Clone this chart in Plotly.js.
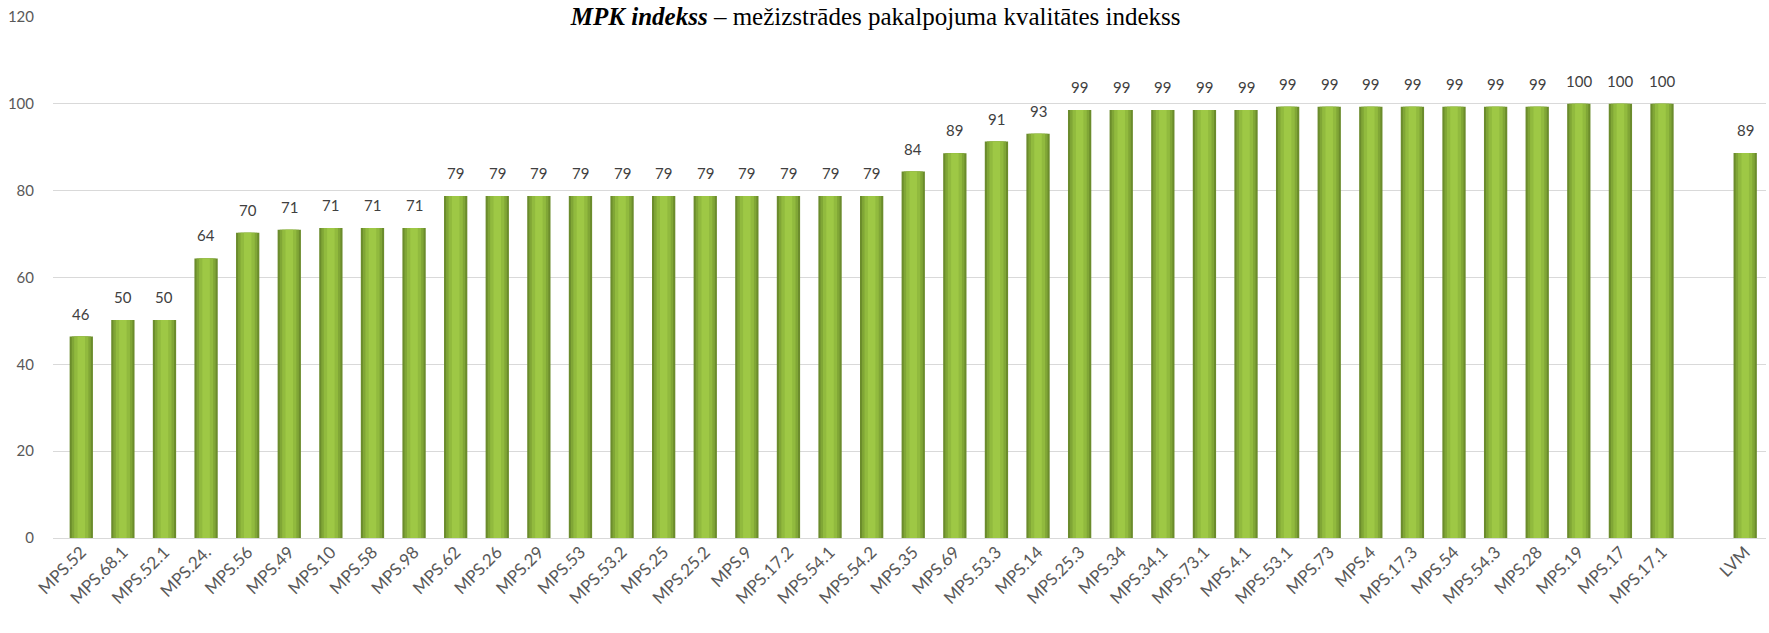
<!DOCTYPE html>
<html>
<head>
<meta charset="utf-8">
<script src="https://cdn.plot.ly/plotly-3.0.1.min.js"></script>
<style>html,body{margin:0;padding:0;background:#fff;}#chart{width:1769px;height:633px;}</style>
</head>
<body>
<div id="chart"></div>
<script>
const categories = ["MPS.52","MPS.68.1","MPS.52.1","MPS.24.","MPS.56","MPS.49","MPS.10","MPS.58","MPS.98","MPS.62","MPS.26","MPS.29","MPS.53","MPS.53.2","MPS.25","MPS.25.2","MPS.9","MPS.17.2","MPS.54.1","MPS.54.2","MPS.35","MPS.69","MPS.53.3","MPS.14","MPS.25.3","MPS.34","MPS.34.1","MPS.73.1","MPS.4.1","MPS.53.1","MPS.73","MPS.4","MPS.17.3","MPS.54","MPS.54.3","MPS.28","MPS.19","MPS.17","MPS.17.1"," ","LVM"];
const values = [46.4,50.2,50.2,64.4,70.3,71.0,71.4,71.4,71.4,78.8,78.8,78.8,78.8,78.8,78.8,78.8,78.8,78.8,78.8,78.8,84.4,88.6,91.3,93.1,98.6,98.6,98.6,98.6,98.6,99.3,99.3,99.3,99.3,99.3,99.3,99.3,100,100,100,null,88.7];
const valueLabels = ["46","50","50","64","70","71","71","71","71","79","79","79","79","79","79","79","79","79","79","79","84","89","91","93","99","99","99","99","99","99","99","99","99","99","99","99","100","100","100","","89"];

const layers = [
  {w: 0.56, c: "#6b8c2c"},
  {w: 0.46, c: "#80a636"},
  {w: 0.34, c: "#91ba3e"},
  {w: 0.18, c: "#9ec845"}
];
const traces = layers.map(l => ({
  type: "bar", x: categories, y: values, width: l.w,
  marker: {color: l.c, line: {width: 0}},
  hoverinfo: "skip", showlegend: false
}));

const annotations = categories.map((c, i) => values[i] === null ? null : ({
  x: c, y: values[i], xref: "x", yref: "y", text: valueLabels[i],
  showarrow: false, yanchor: "bottom", yshift: 12,
  font: {family: "Lato, 'Open Sans', sans-serif", size: 15, color: "#404040"}
})).filter(a => a);

const layout = {
  width: 1769, height: 633,
  margin: {l: 53, r: 3, t: 17, b: 95},
  paper_bgcolor: "#fff", plot_bgcolor: "#fff",
  barmode: "overlay",
  title: {
    text: "<b><i>MPK indekss</i></b> – mežizstrādes pakalpojuma kvalitātes indekss",
    font: {family: "'Liberation Serif', 'Times New Roman', serif", size: 25, color: "#000"},
    x: 0.495, xref: "container", xanchor: "center",
    y: 0.975, yref: "container", yanchor: "middle"
  },
  xaxis: {
    type: "category", range: [-0.68, 40.5],
    tickangle: -45, showgrid: false, zeroline: false,
    showline: false, ticks: "", automargin: false,
    tickfont: {family: "Lato, 'Open Sans', sans-serif", size: 17, color: "#595959"}
  },
  yaxis: {
    range: [0, 120], dtick: 20, showgrid: true, gridcolor: "#d9d9d9", gridwidth: 1,
    zeroline: true, zerolinecolor: "#d9d9d9", zerolinewidth: 1,
    ticks: "", ticklabelstandoff: 18,
    tickfont: {family: "Lato, 'Open Sans', sans-serif", size: 15, color: "#595959"}
  },
  annotations: annotations
};
Plotly.newPlot("chart", traces, layout, {displayModeBar: false, staticPlot: true});
</script>
</body>
</html>
